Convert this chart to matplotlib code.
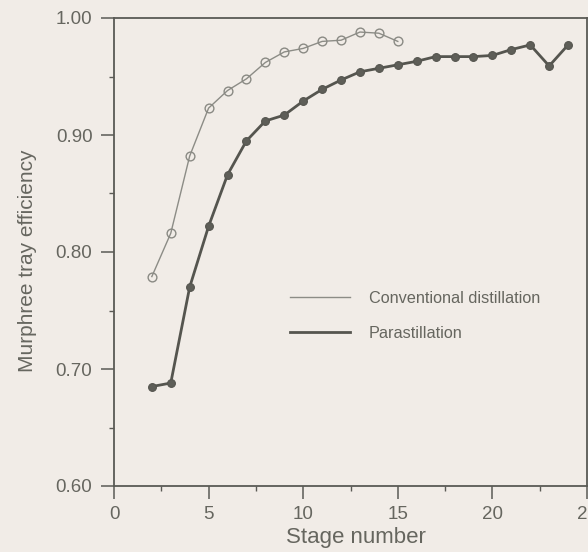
import matplotlib
matplotlib.use("Agg")
import matplotlib.pyplot as plt
from matplotlib.lines import Line2D
from matplotlib.ticker import MultipleLocator, FormatStrFormatter

# Murphree tray efficiency per stage
conv_stages = [2, 3, 4, 5, 6, 7, 8, 9, 10, 11, 12, 13, 14, 15]
conv_eff = [0.779, 0.816, 0.882, 0.923, 0.938, 0.948, 0.962, 0.971, 0.974,
            0.980, 0.981, 0.988, 0.987, 0.980]

para_stages = [2, 3, 4, 5, 6, 7, 8, 9, 10, 11, 12, 13, 14, 15, 16, 17, 18,
               19, 20, 21, 22, 23, 24]
para_eff = [0.685, 0.688, 0.770, 0.822, 0.866, 0.895, 0.912, 0.917, 0.929,
            0.939, 0.947, 0.954, 0.957, 0.960, 0.963, 0.967, 0.967, 0.967,
            0.968, 0.973, 0.977, 0.959, 0.977]

series_labels = ["Conventional distillation", "Parastillation"]
x_ticks = [0, 5, 10, 15, 20, 25]
y_ticks = [0.60, 0.70, 0.80, 0.90, 1.00]

paper = "#f1ece7"
ink = "#5a5a55"
text_col = "#66665f"
conv_col = "#8c8c86"
para_col = "#55554f"

plt.rcParams["font.family"] = ["Liberation Sans", "DejaVu Sans"]

W, H = 588, 552
fig = plt.figure(figsize=(W / 100, H / 100), dpi=100, facecolor=paper)
ax_l, ax_r, ax_t, ax_b = 114, 587, 18, 486
ax = fig.add_axes([ax_l / W, (H - ax_b) / H, (ax_r - ax_l) / W,
                   (ax_b - ax_t) / H])
ax.set_facecolor(paper)

ax.plot(conv_stages, conv_eff, color=conv_col, lw=1.0, marker="o",
        ms=6.3, mfc="none", mec="#8a8a84", mew=1.0)
ax.plot(para_stages, para_eff, color=para_col, lw=2.0, marker="o",
        ms=5.6, mfc="#5e5e58", mec=para_col, mew=0.8)

ax.set_xlim(0, 25)
ax.set_ylim(0.60, 1.00)
ax.set_xticks(x_ticks)
ax.set_yticks(y_ticks)
ax.xaxis.set_minor_locator(MultipleLocator(2.5))
ax.yaxis.set_minor_locator(MultipleLocator(0.05))
ax.yaxis.set_major_formatter(FormatStrFormatter("%.2f"))

for s in ax.spines.values():
    s.set_color(ink)
    s.set_linewidth(1.3)

ax.tick_params(which="major", direction="out", length=9.5, width=1.1,
               color=ink, labelcolor=text_col, labelsize=13.5)
ax.tick_params(axis="x", which="major", pad=5)
ax.tick_params(axis="y", which="major", pad=6)
ax.tick_params(which="minor", direction="out", length=3.5, width=1.0,
               color=ink)

ax.set_xlabel("Stage number", fontsize=16, color=text_col)
ax.xaxis.set_label_coords((356 - ax_l) / (ax_r - ax_l),
                          (ax_b - 527) / (ax_b - ax_t))
ax.set_ylabel("Murphree tray efficiency", fontsize=15, color=text_col)
ax.yaxis.set_label_coords((37 - ax_l) / (ax_r - ax_l),
                          (ax_b - 261) / (ax_b - ax_t))

# legend shows line styles only
handles = [Line2D([], [], color=conv_col, lw=1.0),
           Line2D([], [], color=para_col, lw=2.0)]
ax.legend(handles, series_labels, loc="upper left",
          bbox_to_anchor=((290 - ax_l) / (ax_r - ax_l),
                          (ax_b - 291) / (ax_b - ax_t)),
          frameon=False, borderpad=0, borderaxespad=0, fontsize=11.7,
          handlelength=3.7, handletextpad=1.15, labelspacing=1.2,
          labelcolor=text_col)

fig.savefig("out.png", dpi=100, facecolor=paper)
